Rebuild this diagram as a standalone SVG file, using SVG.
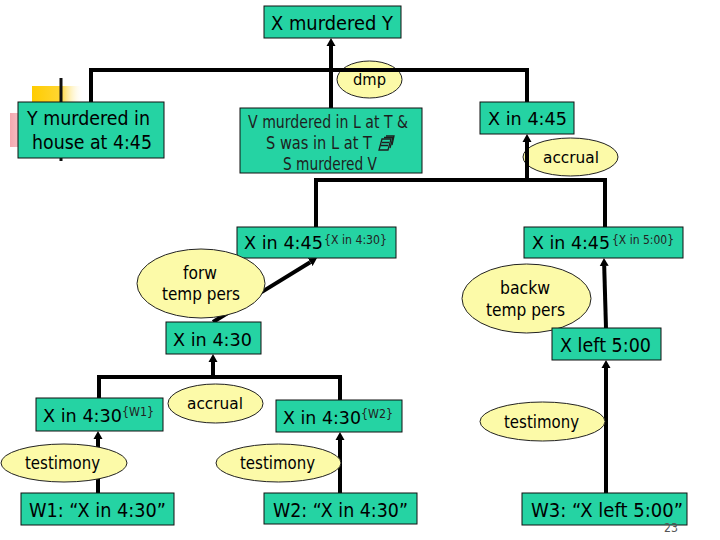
<svg xmlns="http://www.w3.org/2000/svg" width="720" height="540" viewBox="0 0 720 540">
<defs>
<marker id="arr" viewBox="0 -5 8 10" refX="0" refY="0" markerWidth="8" markerHeight="10" markerUnits="userSpaceOnUse" orient="auto">
<path d="M0,-4.5 L8,0 L0,4.5 Z" fill="#000"/>
</marker>
<linearGradient id="gYel" x1="0" y1="0" x2="1" y2="0">
<stop offset="0" stop-color="#FFCC00"/>
<stop offset="0.55" stop-color="#FFD633"/>
<stop offset="1" stop-color="#FFFFFF" stop-opacity="0"/>
</linearGradient>
<linearGradient id="gPink" x1="0" y1="0" x2="1" y2="0">
<stop offset="0" stop-color="#F4A9B0"/>
<stop offset="0.4" stop-color="#F8CDD1"/>
<stop offset="1" stop-color="#FFFFFF" stop-opacity="0"/>
</linearGradient>
<linearGradient id="gGrey" x1="0" y1="0" x2="1" y2="0">
<stop offset="0" stop-color="#555"/>
<stop offset="1" stop-color="#AAA"/>
</linearGradient>
<linearGradient id="gFaint" x1="0" y1="0" x2="1" y2="0">
<stop offset="0" stop-color="#D8D8D8"/>
<stop offset="1" stop-color="#F4F4F4"/>
</linearGradient>
</defs>
<style>
.box{fill:#25D3A3;stroke:#111;stroke-width:1}
.ell{fill:#FCFAA8;stroke:#222;stroke-width:1}
.t{font-family:"DejaVu Sans","Liberation Sans",sans-serif;fill:#000}
.t18{font-size:18px}
.t20{font-size:20px}
.t17{font-size:17px}
.t16{font-size:16px}
.sup{font-family:"DejaVu Sans","Liberation Sans",sans-serif;font-size:13px;fill:#222}
.v{font-family:"DejaVu Sans","Liberation Sans",sans-serif;font-size:17.5px;fill:#1e1e1e}
.ln{fill:none;stroke:#000;stroke-width:4}
.ar{fill:none;stroke:#000;stroke-width:4;marker-end:url(#arr)}
</style>
<rect width="720" height="540" fill="#fff"/>

<g id="decoration">
<rect x="32" y="86" width="52" height="30" fill="url(#gYel)"/>
<rect x="10" y="113" width="40" height="34" fill="url(#gPink)"/>
<line x1="61" y1="78" x2="61" y2="161" stroke="#111" stroke-width="3"/>
<line x1="164" y1="141" x2="240" y2="141" stroke="url(#gGrey)" stroke-width="4"/>
<line x1="422" y1="141.5" x2="674" y2="141.5" stroke="url(#gFaint)" stroke-width="3"/>
</g>

<g id="n-dmp">
<ellipse class="ell" cx="369.5" cy="79.5" rx="32.5" ry="18.5"/>
<text class="t t16" x="353" y="85" textLength="33" lengthAdjust="spacingAndGlyphs">dmp</text>
</g>
<g id="n-accrual1">
<ellipse class="ell" cx="570.5" cy="157" rx="47.5" ry="19"/>
<text class="t t16" x="543" y="163" textLength="56" lengthAdjust="spacingAndGlyphs">accrual</text>
</g>

<g id="connectors">
<path class="ln" d="M91,102 V70 H527 V102"/>
<path class="ar" d="M331,108 V46"/>
<path class="ln" d="M316,227 V180 H605 V227"/>
<path class="ar" d="M527,180 V142"/>
<path class="ar" d="M213,322 L310.2,262.2"/>
<path class="ar" d="M606,328 L604.2,266"/>
<path class="ln" d="M99,398 V377 H340 V400"/>
<path class="ar" d="M213,377 V362"/>
<path class="ar" d="M98,493 V439"/>
<path class="ar" d="M340,493 V440"/>
<path class="ar" d="M606,493 V368"/>
</g>

<g id="n-xmy">
<rect class="box" x="264" y="6" width="137" height="32"/>
<text class="t t20" x="271" y="30" textLength="122" lengthAdjust="spacingAndGlyphs">X murdered Y</text>
</g>
<g id="n-ymh">
<rect class="box" x="18" y="102" width="146" height="56"/>
<text class="t t20" x="27" y="125" textLength="123" lengthAdjust="spacingAndGlyphs">Y murdered in</text>
<text class="t t20" x="32" y="149" textLength="120" lengthAdjust="spacingAndGlyphs">house at 4:45</text>
</g>
<g id="n-vml">
<rect class="box" x="240" y="108" width="182" height="65"/>
<text class="v" x="248" y="128" textLength="160" lengthAdjust="spacingAndGlyphs">V murdered in L at T &amp;</text>
<text class="v" x="266" y="149" textLength="106" lengthAdjust="spacingAndGlyphs">S was in L at T</text>
<g transform="translate(377,136)" fill="none" stroke="#1e1e1e" stroke-width="1.3">
<path d="M5,3 L14,3 L11,14 L2,14 Z"/>
<path d="M7,1.5 L16,1.5 L13,12"/>
<path d="M9,0 L17,0 L15,9"/>
<path d="M5,6.5 L12,6.5 M4,9.5 L11,9.5"/>
</g>
<text class="v" x="283" y="170" textLength="94" lengthAdjust="spacingAndGlyphs">S murdered V</text>
</g>
<g id="n-x445">
<rect class="box" x="480" y="102" width="94" height="32"/>
<text class="t t18" x="488" y="125" textLength="79" lengthAdjust="spacingAndGlyphs">X in 4:45</text>
</g>
<g id="n-x445a">
<rect class="box" x="237" y="227" width="159" height="31"/>
<text class="t t18" x="244" y="249" textLength="79" lengthAdjust="spacingAndGlyphs">X in 4:45</text>
<text class="sup" x="324" y="244" textLength="63" lengthAdjust="spacingAndGlyphs">{X in 4:30}</text>
</g>
<g id="n-x445b">
<rect class="box" x="524" y="227" width="159" height="31"/>
<text class="t t18" x="532" y="249" textLength="78" lengthAdjust="spacingAndGlyphs">X in 4:45</text>
<text class="sup" x="612" y="244" textLength="62" lengthAdjust="spacingAndGlyphs">{X in 5:00}</text>
</g>
<g id="n-forw">
<ellipse class="ell" cx="201" cy="283.5" rx="64" ry="34.5"/>
<text class="t t17" x="183" y="279" textLength="34" lengthAdjust="spacingAndGlyphs">forw</text>
<text class="t t17" x="162" y="300" textLength="78" lengthAdjust="spacingAndGlyphs">temp pers</text>
</g>
<g id="n-backw">
<ellipse class="ell" cx="526.5" cy="298.5" rx="64.5" ry="34.5"/>
<text class="t t17" x="500" y="294" textLength="50" lengthAdjust="spacingAndGlyphs">backw</text>
<text class="t t17" x="486" y="316" textLength="79" lengthAdjust="spacingAndGlyphs">temp pers</text>
</g>
<g id="n-x430">
<rect class="box" x="166" y="322" width="95" height="32"/>
<text class="t t18" x="173" y="346" textLength="79" lengthAdjust="spacingAndGlyphs">X in 4:30</text>
</g>
<g id="n-xleft">
<rect class="box" x="552" y="328" width="109" height="32"/>
<text class="t t20" x="560" y="352" textLength="91" lengthAdjust="spacingAndGlyphs">X left 5:00</text>
</g>
<g id="n-accrual2">
<ellipse class="ell" cx="215.5" cy="403.5" rx="47.5" ry="19.5"/>
<text class="t t16" x="187" y="409" textLength="56" lengthAdjust="spacingAndGlyphs">accrual</text>
</g>
<g id="n-x430w1">
<rect class="box" x="36" y="398" width="127" height="33"/>
<text class="t t18" x="43" y="422" textLength="79" lengthAdjust="spacingAndGlyphs">X in 4:30</text>
<text class="sup" x="122" y="416" textLength="32" lengthAdjust="spacingAndGlyphs">{W1}</text>
</g>
<g id="n-x430w2">
<rect class="box" x="276" y="400" width="126" height="32"/>
<text class="t t18" x="283" y="424" textLength="78" lengthAdjust="spacingAndGlyphs">X in 4:30</text>
<text class="sup" x="361" y="418" textLength="32" lengthAdjust="spacingAndGlyphs">{W2}</text>
</g>
<g id="n-test1">
<ellipse class="ell" cx="64" cy="463" rx="63" ry="19"/>
<text class="t t17" x="25" y="469" textLength="75" lengthAdjust="spacingAndGlyphs">testimony</text>
</g>
<g id="n-test2">
<ellipse class="ell" cx="278.5" cy="463" rx="62.5" ry="19"/>
<text class="t t17" x="240" y="469" textLength="75" lengthAdjust="spacingAndGlyphs">testimony</text>
</g>
<g id="n-test3">
<ellipse class="ell" cx="542.5" cy="421.5" rx="62.5" ry="19.5"/>
<text class="t t17" x="504" y="428" textLength="75" lengthAdjust="spacingAndGlyphs">testimony</text>
</g>
<g id="n-w1">
<rect class="box" x="21" y="493" width="153" height="32"/>
<text class="t t20" x="29" y="517" textLength="137" lengthAdjust="spacingAndGlyphs">W1: “X in 4:30”</text>
</g>
<g id="n-w2">
<rect class="box" x="264" y="493" width="153" height="31"/>
<text class="t t20" x="273" y="517" textLength="135" lengthAdjust="spacingAndGlyphs">W2: “X in 4:30”</text>
</g>
<g id="n-w3">
<rect class="box" x="522" y="493" width="165" height="32"/>
<text class="t t20" x="531" y="517" textLength="152" lengthAdjust="spacingAndGlyphs">W3: “X left 5:00”</text>
</g>
<text x="664" y="532" font-family="DejaVu Sans, Liberation Sans, sans-serif" font-size="12" fill="#555" textLength="14" lengthAdjust="spacingAndGlyphs">23</text>
</svg>
